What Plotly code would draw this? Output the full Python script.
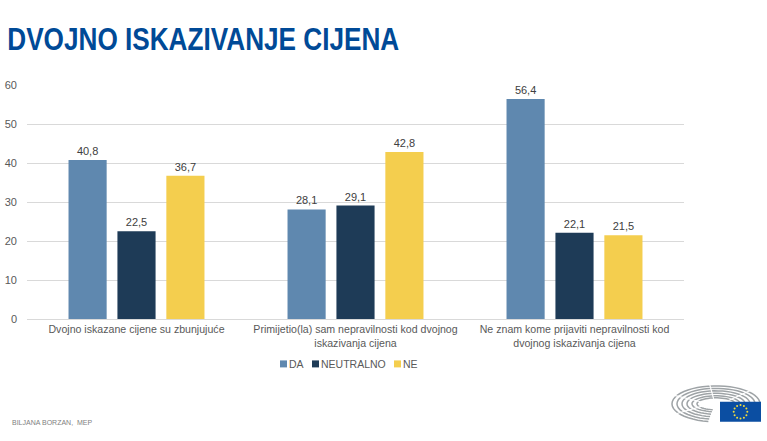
import math
import plotly.graph_objects as go

categories = ["Dvojno iskazane cijene su zbunjujuće",
              "Primijetio(la) sam nepravilnosti kod dvojnog<br>iskazivanja cijena",
              "Ne znam kome prijaviti nepravilnosti kod<br>dvojnog iskazivanja cijena"]
da = [40.8, 28.1, 56.4]
neutralno = [22.5, 29.1, 22.1]
ne = [36.7, 42.8, 21.5]
series_names = ["DA", "NEUTRALNO", "NE"]
series_colors = ["#5F88AF", "#1E3B57", "#F4CE4E"]
series_values = [da, neutralno, ne]

W, H = 767, 441
L, R, T, B = 27, 684, 84.5, 319          # plot box in window pixels

def px(x): return (x - L) / (R - L)
def py(y): return (B - y) / (B - T)

fig = go.Figure()
for name, vals, col in zip(series_names, series_values, series_colors):
    fig.add_bar(x=categories, y=vals, name=name, marker_color=col, marker_line_width=0,
                text=[f"{v:.1f}".replace(".", ",") for v in vals], textposition="outside",
                textfont=dict(size=11, color="#404040"), cliponaxis=False, showlegend=False)

shapes = []
# parliament hemicycle emblem
cx, cy = 716, 404
for rx, ry in [(44, 18), (39, 15.5), (34, 13), (29, 10.5), (24, 8), (19, 6)]:
    pts = [(cx + rx * math.cos(math.radians(100 + k * 7.25)),
            cy + ry * math.sin(math.radians(100 + k * 7.25))) for k in range(41)]
    path = "M " + " L ".join(f"{px(x):.4f},{py(y):.4f}" for x, y in pts)
    shapes.append(dict(type="path", path=path, xref="paper", yref="paper",
                       line=dict(color="#9EA3A6", width=1.5)))
for ang in [150, 205, 262, 318]:
    a = math.radians(ang)
    shapes.append(dict(type="line", xref="paper", yref="paper",
                       x0=px(cx + 17 * math.cos(a)), y0=py(cy + 5 * math.sin(a)),
                       x1=px(cx + 46 * math.cos(a)), y1=py(cy + 20 * math.sin(a)),
                       line=dict(color="white", width=1.2)))
# EU flag
shapes.append(dict(type="rect", xref="paper", yref="paper",
                   x0=px(720), x1=px(761), y0=py(422), y1=py(402),
                   fillcolor="#0B4EA2", line_width=0))
for i in range(12):
    sx = 740.5 + 6.8 * math.sin(math.radians(i * 30))
    sy = 412 - 6.8 * math.cos(math.radians(i * 30))
    shapes.append(dict(type="circle", xref="paper", yref="paper",
                       x0=px(sx - 1), x1=px(sx + 1), y0=py(sy + 1), y1=py(sy - 1),
                       fillcolor="#F2DC3C", line_width=0))

annotations = [
    dict(text="DVOJNO ISKAZIVANJE CIJENA", xref="paper", yref="paper", x=px(203), y=py(39), xanchor="center",
         yanchor="middle", showarrow=False, font=dict(size=31, weight=700, color="#004A97")),
    dict(text="BILJANA BORZAN,  MEP", xref="paper", yref="paper", x=px(10), y=py(423), xanchor="left",
         yanchor="middle", showarrow=False, font=dict(size=7, color="#7F7F7F")),
]
# legend row
for name, col, sq in zip(series_names, series_colors, [280, 312, 394]):
    shapes.append(dict(type="rect", xref="paper", yref="paper", x0=px(sq), x1=px(sq + 7), y0=py(367.5), y1=py(360.5),
                       fillcolor=col, line_width=0))
    annotations.append(dict(text=name, xref="paper", yref="paper", x=px(sq + 6.5), y=py(364), xanchor="left",
                            yanchor="middle", showarrow=False, font=dict(size=10.5, color="#595959")))

fig.update_layout(
    width=W, height=H, autosize=False,
    paper_bgcolor="rgba(0,0,0,0)", plot_bgcolor="rgba(0,0,0,0)",
    font=dict(family="Liberation Sans, Arial, sans-serif", color="#595959", size=11),
    margin=dict(l=L, r=W - R, t=T, b=H - B, pad=0),
    barmode="group", bargap=0.33, bargroupgap=0.22,
    showlegend=False,
    shapes=shapes, annotations=annotations,
    xaxis=dict(showgrid=False, ticks="", showline=True, linecolor="#D9D9D9", linewidth=1,
               tickfont=dict(size=10.6, color="#595959"), tickangle=0, automargin=False),
    yaxis=dict(range=[0, 60], dtick=10, showgrid=True, gridcolor="#D9D9D9", gridwidth=1, zeroline=False,
               ticks="", tickfont=dict(size=11, color="#595959"), automargin=False, ticklabelstandoff=9),
)
post = """
document.documentElement.style.overflow='hidden';
document.body.style.margin='0';
var t=document.querySelector('.annotation-text');
if(t){t.setAttribute('textLength','392');t.setAttribute('lengthAdjust','spacingAndGlyphs');}
"""
fig.write_html("out.html", post_script=post, config={"displayModeBar": False})
